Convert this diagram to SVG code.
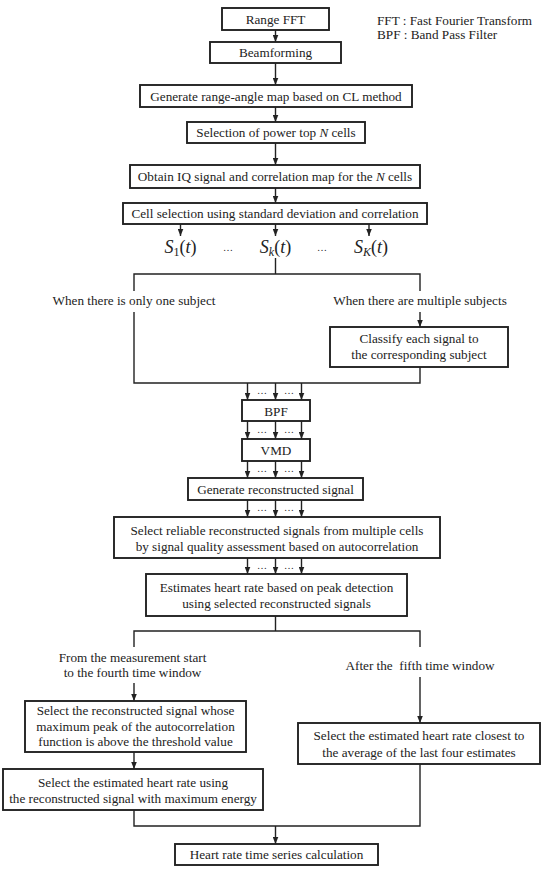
<svg xmlns="http://www.w3.org/2000/svg" width="550" height="872" viewBox="0 0 550 872">
<defs>
<marker id="ah" markerUnits="userSpaceOnUse" markerWidth="8" markerHeight="6" refX="7" refY="3" orient="auto">
<path d="M0,0.2 L7,3 L0,5.8 z" fill="#222"/>
</marker>
<style>
.box{fill:#fff;stroke:#222;stroke-width:1.9}
.t{font-family:"Liberation Serif","Times New Roman",serif;font-size:13.2px;fill:#222;text-anchor:middle}
.tl{font-family:"Liberation Serif","Times New Roman",serif;font-size:13.2px;fill:#222}
.c{stroke:#222;stroke-width:1.4;fill:none}
.a{stroke:#222;stroke-width:1.4;fill:none;marker-end:url(#ah)}
.m{font-family:"Liberation Serif","Times New Roman",serif;font-size:18px;font-style:italic;fill:#222;text-anchor:middle}
.d{font-family:"Liberation Serif","Times New Roman",serif;font-size:10px;fill:#222;text-anchor:middle}
</style>
</defs>
<rect width="550" height="872" fill="#fff"/>

<g id="legend">
<text class="tl" x="377" y="24.5">FFT : Fast Fourier Transform</text>
<text class="tl" x="377" y="39">BPF : Band Pass Filter</text>
</g>

<g id="connectors">
<line class="a" x1="275.5" y1="30" x2="275.5" y2="42"/>
<line class="a" x1="275.5" y1="63" x2="275.5" y2="85"/>
<line class="a" x1="275.5" y1="107" x2="275.5" y2="122"/>
<line class="a" x1="275.5" y1="143" x2="275.5" y2="165"/>
<line class="a" x1="275.5" y1="188" x2="275.5" y2="203"/>
<line class="a" x1="180.5" y1="224" x2="180.5" y2="236"/>
<line class="a" x1="275.5" y1="224" x2="275.5" y2="236"/>
<line class="a" x1="369" y1="224" x2="369" y2="236"/>
<line class="c" x1="275.5" y1="258" x2="275.5" y2="274"/>
<path class="c" d="M134,291 V274 H420 V291"/>
<path class="c" d="M134,312 V383 H420 V367"/>
<line class="a" x1="420" y1="312" x2="420" y2="327"/>
<line class="a" x1="247.5" y1="383" x2="247.5" y2="400"/>
<line class="a" x1="275.5" y1="383" x2="275.5" y2="400"/>
<line class="a" x1="301.5" y1="383" x2="301.5" y2="400"/>
<line class="a" x1="247.5" y1="421" x2="247.5" y2="439"/>
<line class="a" x1="275.5" y1="421" x2="275.5" y2="439"/>
<line class="a" x1="301.5" y1="421" x2="301.5" y2="439"/>
<line class="a" x1="247.5" y1="461" x2="247.5" y2="478"/>
<line class="a" x1="275.5" y1="461" x2="275.5" y2="478"/>
<line class="a" x1="301.5" y1="461" x2="301.5" y2="478"/>
<line class="a" x1="247.5" y1="500" x2="247.5" y2="517"/>
<line class="a" x1="275.5" y1="500" x2="275.5" y2="517"/>
<line class="a" x1="301.5" y1="500" x2="301.5" y2="517"/>
<line class="a" x1="247.5" y1="558" x2="247.5" y2="574"/>
<line class="a" x1="275.5" y1="558" x2="275.5" y2="574"/>
<line class="a" x1="301.5" y1="558" x2="301.5" y2="574"/>
<line class="c" x1="275.5" y1="616" x2="275.5" y2="631"/>
<path class="c" d="M134,647 V631 H420 V647"/>
<line class="a" x1="134" y1="683" x2="134" y2="701"/>
<line class="a" x1="420" y1="677" x2="420" y2="723"/>
<line class="a" x1="134" y1="752" x2="134" y2="769"/>
<path class="c" d="M134,810 V826 H420 V764"/>
<line class="a" x1="275.5" y1="826" x2="275.5" y2="844"/>
<text class="d" x="262" y="394">…</text><text class="d" x="289" y="394">…</text>
<text class="d" x="262" y="433">…</text><text class="d" x="289" y="433">…</text>
<text class="d" x="262" y="472">…</text><text class="d" x="289" y="472">…</text>
<text class="d" x="262" y="511">…</text><text class="d" x="289" y="511">…</text>
<text class="d" x="262" y="569">…</text><text class="d" x="289" y="569">…</text>
</g>

<g id="n-rangefft"><rect class="box" x="222" y="8" width="107" height="22"/><text class="t" x="275.5" y="23.5">Range FFT</text></g>
<g id="n-beamforming"><rect class="box" x="210" y="42" width="131" height="21"/><text class="t" x="275.5" y="57">Beamforming</text></g>
<g id="n-rangeangle"><rect class="box" x="140" y="85" width="272" height="22"/><text class="t" x="276" y="100.5">Generate range-angle map based on CL method</text></g>
<g id="n-topn"><rect class="box" x="187" y="122" width="178" height="21"/><text class="t" x="276" y="137">Selection of power top <tspan font-style="italic">N</tspan> cells</text></g>
<g id="n-iq"><rect class="box" x="130" y="165" width="290" height="23"/><text class="t" x="275" y="181">Obtain IQ signal and correlation map for the <tspan font-style="italic">N</tspan> cells</text></g>
<g id="n-cellsel"><rect class="box" x="123" y="203" width="304" height="21"/><text class="t" x="275" y="218">Cell selection using standard deviation and correlation</text></g>

<g id="n-signals">
<text class="m" x="180.5" y="253">S<tspan font-style="normal" font-size="12" dy="3">1</tspan><tspan font-style="normal" dy="-3">(</tspan>t<tspan font-style="normal">)</tspan></text>
<text class="d" x="228" y="251">…</text>
<text class="m" x="275.5" y="253">S<tspan font-size="12" dy="3">k</tspan><tspan font-style="normal" dy="-3">(</tspan>t<tspan font-style="normal">)</tspan></text>
<text class="d" x="322" y="251">…</text>
<text class="m" x="371" y="253">S<tspan font-size="12" dy="3">K</tspan><tspan font-style="normal" dy="-3">(</tspan>t<tspan font-style="normal">)</tspan></text>
</g>

<g id="n-one"><text class="t" x="134" y="305">When there is only one subject</text></g>
<g id="n-multi"><text class="t" x="420" y="305">When there are multiple subjects</text></g>
<g id="n-classify"><rect class="box" x="330" y="327" width="178" height="40"/><text class="t" x="419" y="343">Classify each signal to</text><text class="t" x="419" y="359">the corresponding subject</text></g>

<g id="n-bpf"><rect class="box" x="242" y="400" width="68" height="21"/><text class="t" x="276" y="415.5">BPF</text></g>
<g id="n-vmd"><rect class="box" x="242" y="439" width="68" height="22"/><text class="t" x="276" y="454.5">VMD</text></g>
<g id="n-recon"><rect class="box" x="188" y="478" width="175" height="22"/><text class="t" x="275.5" y="493.5">Generate reconstructed signal</text></g>
<g id="n-reliable"><rect class="box" x="114" y="517" width="326" height="41"/><text class="t" x="277" y="535">Select reliable reconstructed signals from multiple cells</text><text class="t" x="277" y="550.5">by signal quality assessment based on autocorrelation</text></g>
<g id="n-estimate"><rect class="box" x="146" y="574" width="261" height="42"/><text class="t" x="276.5" y="592">Estimates heart rate based on peak detection</text><text class="t" x="276.5" y="607.5">using selected reconstructed signals</text></g>

<g id="n-first"><text class="t" x="132.5" y="661.5">From the measurement start</text><text class="t" x="132.5" y="676.5">to the fourth time window</text></g>
<g id="n-after"><text class="t" x="420" y="670" xml:space="preserve">After the  fifth time window</text></g>

<g id="n-autocorr"><rect class="box" x="25" y="701" width="221" height="51"/><text class="t" x="135.5" y="715">Select the reconstructed signal whose</text><text class="t" x="135.5" y="730.5">maximum peak of the autocorrelation</text><text class="t" x="135.5" y="746">function is above the threshold value</text></g>
<g id="n-energy"><rect class="box" x="3" y="769" width="260" height="41"/><text class="t" x="133" y="786.5">Select the estimated heart rate using</text><text class="t" x="133" y="802.5">the reconstructed signal with maximum energy</text></g>
<g id="n-closest"><rect class="box" x="298" y="723" width="242" height="41"/><text class="t" x="419" y="740">Select the estimated heart rate closest to</text><text class="t" x="419" y="756.5">the average of the last four estimates</text></g>
<g id="n-series"><rect class="box" x="175" y="844" width="203" height="21"/><text class="t" x="276.5" y="859">Heart rate time series calculation</text></g>
</svg>
